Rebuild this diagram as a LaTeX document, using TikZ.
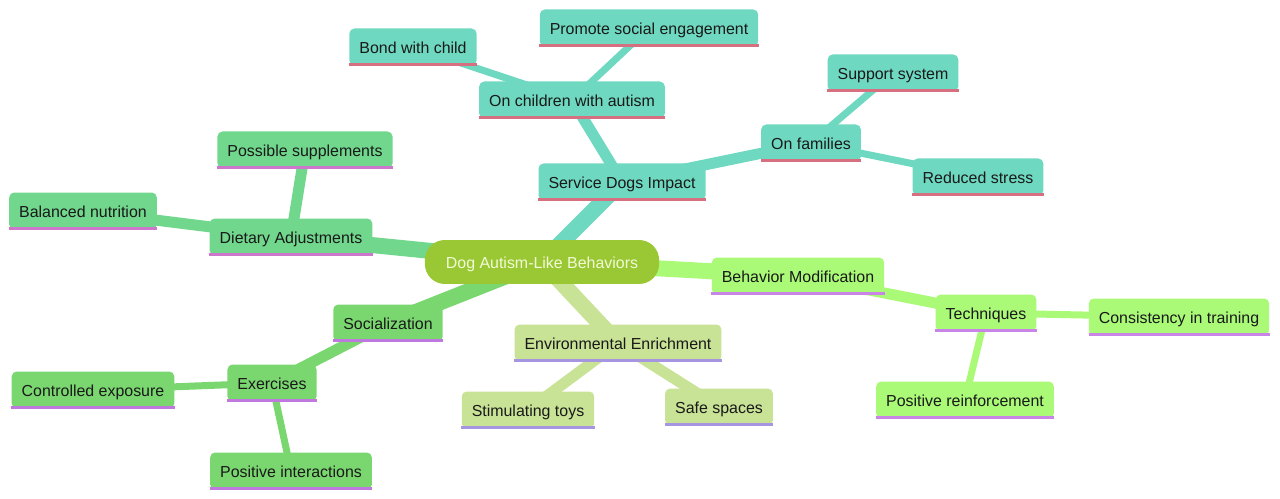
\documentclass[tikz,border=0pt]{standalone}
\usepackage{fontspec}
\setmainfont{Liberation Sans}
\usetikzlibrary{backgrounds}

\definecolor{rootfill}{RGB}{154,200,52}
\definecolor{roottext}{RGB}{242,250,214}
\definecolor{svcfill}{RGB}{110,216,192}
\definecolor{svcline}{RGB}{214,112,128}
\definecolor{dietfill}{RGB}{112,215,140}
\definecolor{dietline}{RGB}{204,118,204}
\definecolor{socfill}{RGB}{122,215,112}
\definecolor{socline}{RGB}{190,120,222}
\definecolor{envfill}{RGB}{200,226,150}
\definecolor{envline}{RGB}{166,150,226}
\definecolor{behfill}{RGB}{170,250,120}
\definecolor{behline}{RGB}{200,132,230}

\tikzset{
  box/.style 2 args={fill=#1, rounded corners=1mm, minimum height=7.4mm,
    inner xsep=2mm, inner ysep=0pt, text=black!90,
    text height=2.7mm, text depth=0pt,
    font=\fontsize{9.07}{11}\selectfont,
    append after command={([yshift=0.3mm]\tikzlastnode.south west)
      edge[draw=#2, line width=0.6mm] ([yshift=0.3mm]\tikzlastnode.south east)}},
  rootbox/.style={fill=rootfill, rounded corners=4mm, minimum height=8.8mm,
    inner xsep=4.2mm, inner ysep=0pt, text=roottext,
    text height=2.7mm, text depth=0pt,
    font=\fontsize{9.07}{11}\selectfont},
}

\begin{document}
\begin{tikzpicture}[x=0.02cm,y=-0.02cm]
  \useasboundingbox (0,0) rectangle (1280,499);

  % Root
  \node[rootbox] (root) at (542,262) {Dog Autism-Like Behaviors};

  % Service dogs
  \node[box={svcfill}{svcline}] (svc) at (622,182) {Service Dogs Impact};
  \node[box={svcfill}{svcline}] (child) at (572,100) {On children with autism};
  \node[box={svcfill}{svcline}] (bond) at (413,47) {Bond with child};
  \node[box={svcfill}{svcline}] (promote) at (649,28) {Promote social engagement};
  \node[box={svcfill}{svcline}] (fam) at (811,143) {On families};
  \node[box={svcfill}{svcline}] (support) at (893,73) {Support system};
  \node[box={svcfill}{svcline}] (stress) at (978,177) {Reduced stress};

  % Diet
  \node[box={dietfill}{dietline}] (diet) at (291,237) {Dietary Adjustments};
  \node[box={dietfill}{dietline}] (supp) at (305,150) {Possible supplements};
  \node[box={dietfill}{dietline}] (nutr) at (83,211) {Balanced nutrition};

  % Socialization
  \node[box={socfill}{socline}] (soc) at (388,323) {Socialization};
  \node[box={socfill}{socline}] (exer) at (272,383) {Exercises};
  \node[box={socfill}{socline}] (expo) at (93,390) {Controlled exposure};
  \node[box={socfill}{socline}] (inter) at (291,471) {Positive interactions};

  % Environment
  \node[box={envfill}{envline}] (env) at (618,343) {Environmental Enrichment};
  \node[box={envfill}{envline}] (toys) at (528,410) {Stimulating toys};
  \node[box={envfill}{envline}] (safe) at (719,407) {Safe spaces};

  % Behavior modification
  \node[box={behfill}{behline}] (beh) at (798,276) {Behavior Modification};
  \node[box={behfill}{behline}] (tech) at (986,313) {Techniques};
  \node[box={behfill}{behline}] (cons) at (1179,317) {Consistency in training};
  \node[box={behfill}{behline}] (reinf) at (965,400) {Positive reinforcement};

  % Edges
  \begin{scope}[on background layer]
    \foreach \a/\b/\c in {root/svc/svcfill, root/diet/dietfill, root/soc/socfill,
        root/env/envfill, root/beh/behfill}
      \draw[line width=3.2mm,\c] (\a.center) -- (\b.center);
    \foreach \a/\b/\c in {svc/child/svcfill, svc/fam/svcfill, diet/supp/dietfill,
        diet/nutr/dietfill, soc/exer/socfill, env/toys/envfill, env/safe/envfill,
        beh/tech/behfill}
      \draw[line width=2.2mm,\c] (\a.center) -- (\b.center);
    \foreach \a/\b/\c in {child/bond/svcfill, child/promote/svcfill,
        fam/support/svcfill, fam/stress/svcfill, exer/expo/socfill,
        exer/inter/socfill, tech/cons/behfill, tech/reinf/behfill}
      \draw[line width=1.4mm,\c] (\a.center) -- (\b.center);
  \end{scope}
\end{tikzpicture}
\end{document}
